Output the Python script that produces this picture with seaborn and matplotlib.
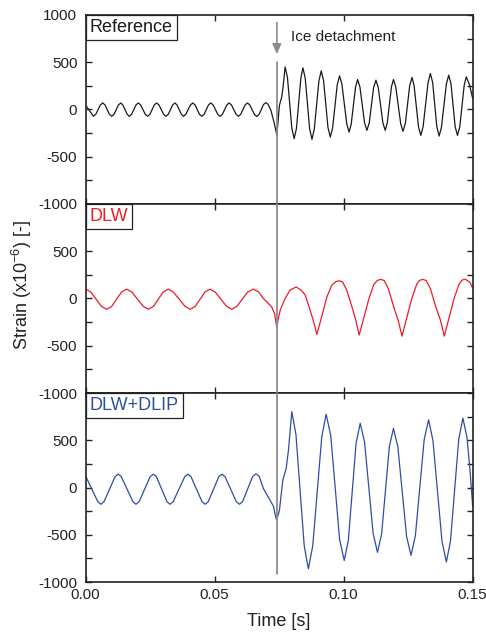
import numpy as np
import pandas as pd
import matplotlib
matplotlib.use("Agg")
import matplotlib.pyplot as plt
import seaborn as sns
from matplotlib.offsetbox import AnchoredText
from matplotlib.ticker import FixedLocator, MultipleLocator

# strain traces (time in s, strain in 1e-6)
ref_t = [0.0000, 0.0030, 0.0039, 0.0057, 0.0066, 0.0075, 0.0092, 0.0101, 0.0110, 0.0127,
         0.0136, 0.0144, 0.0161, 0.0169, 0.0178, 0.0195, 0.0204, 0.0213, 0.0231, 0.0240,
         0.0249, 0.0266, 0.0275, 0.0284, 0.0302, 0.0311, 0.0320, 0.0337, 0.0346, 0.0354,
         0.0371, 0.0379, 0.0388, 0.0406, 0.0415, 0.0424, 0.0441, 0.0450, 0.0459, 0.0476,
         0.0485, 0.0494, 0.0512, 0.0521, 0.0530, 0.0547, 0.0556, 0.0565, 0.0583, 0.0592,
         0.0601, 0.0618, 0.0627, 0.0636, 0.0654, 0.0663, 0.0672, 0.0689, 0.0698, 0.0707,
         0.0718, 0.0730, 0.0741, 0.0751, 0.0760, 0.0766, 0.0773, 0.0782, 0.0799, 0.0808,
         0.0817, 0.0834, 0.0842, 0.0851, 0.0868, 0.0877, 0.0886, 0.0904, 0.0913, 0.0922,
         0.0939, 0.0948, 0.0957, 0.0975, 0.0984, 0.0993, 0.1012, 0.1021, 0.1029, 0.1046,
         0.1054, 0.1063, 0.1081, 0.1090, 0.1099, 0.1116, 0.1125, 0.1134, 0.1152, 0.1161,
         0.1169, 0.1185, 0.1193, 0.1202, 0.1221, 0.1230, 0.1239, 0.1256, 0.1265, 0.1273,
         0.1290, 0.1299, 0.1308, 0.1327, 0.1336, 0.1345, 0.1361, 0.1370, 0.1379, 0.1398,
         0.1407, 0.1416, 0.1432, 0.1441, 0.1450, 0.1467, 0.1475, 0.1488, 0.1500]
ref_s = [45, -72, -51, 48, 69, 48, -51, -72, -51, 48,
         69, 48, -51, -72, -51, 48, 69, 48, -51, -72,
         -51, 48, 69, 48, -51, -72, -51, 48, 69, 48,
         -51, -72, -51, 48, 69, 48, -51, -72, -51, 48,
         69, 48, -51, -72, -51, 48, 69, 48, -51, -72,
         -51, 48, 69, 48, -53, -75, -52, 51, 73, 55,
         -10, -133, -274, 45, 133, 260, 451, 340, -198, -309,
         -199, 331, 441, 330, -205, -316, -210, 303, 409, 306,
         -189, -292, -197, 261, 356, 269, -153, -240, -158, 236,
         317, 238, -142, -221, -143, 232, 310, 232, -143, -221,
         -142, 238, 317, 237, -151, -231, -147, 255, 339, 250,
         -184, -274, -178, 285, 381, 284, -184, -281, -187, 269,
         363, 270, -181, -274, -183, 254, 345, 260, 116]

dlw_t = [0.0000, 0.0020, 0.0061, 0.0081, 0.0101, 0.0139, 0.0159, 0.0179, 0.0223, 0.0243,
         0.0263, 0.0300, 0.0320, 0.0340, 0.0385, 0.0405, 0.0425, 0.0462, 0.0482, 0.0502,
         0.0546, 0.0566, 0.0586, 0.0628, 0.0650, 0.0670, 0.0689, 0.0721, 0.0732, 0.0741,
         0.0746, 0.0754, 0.0773, 0.0792, 0.0816, 0.0838, 0.0851, 0.0870, 0.0884, 0.0896,
         0.0912, 0.0935, 0.0954, 0.0970, 0.0983, 0.0996, 0.1012, 0.1032, 0.1047, 0.1060,
         0.1076, 0.1098, 0.1117, 0.1131, 0.1144, 0.1157, 0.1173, 0.1193, 0.1211, 0.1226,
         0.1242, 0.1264, 0.1283, 0.1294, 0.1307, 0.1320, 0.1336, 0.1356, 0.1375, 0.1390,
         0.1406, 0.1428, 0.1447, 0.1459, 0.1471, 0.1490, 0.1500]
dlw_s = [100, 68, -83, -114, -83, 68, 99, 68, -83, -114,
         -83, 68, 99, 68, -83, -114, -83, 68, 99, 68,
         -83, -114, -83, 68, 99, 70, 0, -89, -159, -308,
         -220, -124, 0, 88, 123, 80, 35, -124, -250, -380,
         -220, 17, 141, 180, 187, 175, 88, -89, -230, -387,
         -225, 0, 150, 192, 202, 190, 105, -80, -230, -398,
         -230, 0, 150, 192, 202, 190, 105, -80, -230, -398,
         -230, 0, 150, 195, 205, 170, 106]

dlip_t = [0.0000, 0.0047, 0.0059, 0.0071, 0.0114, 0.0126, 0.0138, 0.0183, 0.0195, 0.0207,
          0.0250, 0.0262, 0.0274, 0.0315, 0.0327, 0.0339, 0.0384, 0.0396, 0.0408, 0.0451,
          0.0463, 0.0475, 0.0516, 0.0528, 0.0540, 0.0584, 0.0596, 0.0608, 0.0647, 0.0660,
          0.0672, 0.0689, 0.0728, 0.0738, 0.0741, 0.0751, 0.0764, 0.0777, 0.0786, 0.0799,
          0.0815, 0.0847, 0.0863, 0.0880, 0.0915, 0.0932, 0.0950, 0.0984, 0.1002, 0.1018,
          0.1048, 0.1064, 0.1081, 0.1114, 0.1131, 0.1147, 0.1177, 0.1193, 0.1210, 0.1244,
          0.1261, 0.1278, 0.1312, 0.1329, 0.1346, 0.1381, 0.1398, 0.1414, 0.1446, 0.1462,
          0.1478, 0.1490, 0.1500]
dlip_s = [120, -150, -177, -150, 115, 141, 115, -150, -177, -150,
          115, 141, 115, -150, -177, -150, 115, 141, 115, -150,
          -177, -150, 115, 141, 115, -150, -177, -150, 115, 145,
          120, -11, -199, -330, -340, -241, 78, 200, 396, 803,
          560, -616, -860, -620, 535, 775, 548, -545, -772, -559,
          467, 680, 480, -485, -685, -493, 434, 626, 429, -521,
          -718, -508, 507, 717, 497, -568, -788, -565, 511, 734,
          530, 170, -200]

detach_t = 0.0741
panel_names = ["Reference", "DLW", "DLW+DLIP"]
panel_colors = ["#1a1a1a", "#ed1c24", "#2e4ea1"]
x_ticks = [0.00, 0.05, 0.10, 0.15]
x_labels = ["0.00", "0.05", "0.10", "0.15"]
y_ticks = [-1000, -500, 0, 500, 1000]
y_labels_top = ["-1000", "-500", "0", "500", "1000"]
y_labels_low = ["-1000", "-500", "0", "500", ""]

sns.set_theme(style="ticks")
plt.rcParams["font.family"] = ["Liberation Sans", "DejaVu Sans"]
plt.rcParams["mathtext.fontset"] = "custom"
plt.rcParams["mathtext.rm"] = "Liberation Sans"
plt.rcParams["mathtext.it"] = "Liberation Sans:italic"
text_col = "#222222"
grey = "#8c8c8c"

traces = [(ref_t, ref_s), (dlw_t, dlw_s), (dlip_t, dlip_s)]

fig, axes = plt.subplots(3, 1, sharex=True, figsize=(4.86, 6.37), dpi=100)
fig.subplots_adjust(left=0.1763, right=0.9726, top=0.9765, bottom=0.0863, hspace=0)

for i, ax in enumerate(axes):
    df = pd.DataFrame({"t": traces[i][0], "s": traces[i][1]})
    sns.lineplot(data=df, x="t", y="s", color=panel_colors[i], lw=0.9,
                 estimator=None, sort=False, ax=ax)
    ax.set_xlim(0, 0.15)
    ax.set_ylim(-1000, 1000)
    ax.set_xlabel("")
    ax.set_ylabel("")
    ax.yaxis.set_major_locator(FixedLocator(y_ticks))
    ax.yaxis.set_minor_locator(MultipleLocator(250))
    ax.set_yticklabels(y_labels_top if i == 0 else y_labels_low)
    ax.xaxis.set_major_locator(FixedLocator(x_ticks))
    ax.tick_params(which="both", direction="in", left=True, right=True,
                   top=True, bottom=True, length=4, width=1.0, color=text_col,
                   labelsize=11, labelcolor=text_col)
    ax.tick_params(axis="y", pad=6)
    ax.tick_params(axis="x", pad=4)
    for sp in ax.spines.values():
        sp.set_linewidth(1.2)
        sp.set_color(text_col)

    at = AnchoredText(panel_names[i], loc="upper left", frameon=True, borderpad=0,
                      pad=0.22, prop=dict(size=13, color=panel_colors[i]))
    at.patch.set_edgecolor(text_col)
    at.patch.set_linewidth(0.9)
    at.patch.set_boxstyle("square,pad=0")
    at.set_zorder(5)
    ax.add_artist(at)

axes[2].set_xticklabels(x_labels)
axes[2].set_xlabel("Time [s]", fontsize=13, color=text_col, labelpad=8)

# detachment marker
axes[0].axvline(detach_t, ymin=0, ymax=0.75, color=grey, lw=1.3, zorder=4, clip_on=False)
axes[1].axvline(detach_t, ymin=0, ymax=1, color=grey, lw=1.3, zorder=4, clip_on=False)
axes[2].axvline(detach_t, ymin=0.0435, ymax=1, color=grey, lw=1.3, zorder=4, clip_on=False)
axes[0].annotate("", xy=(detach_t, 585), xytext=(detach_t, 920),
                 arrowprops=dict(arrowstyle="-|>,head_length=0.5,head_width=0.22",
                                 color=grey, lw=1.2, shrinkA=0, shrinkB=0))
axes[0].text(0.0795, 770, "Ice detachment", fontsize=11, color=text_col,
             ha="left", va="center")

fig.text(22 / 486, 1 - 285 / 637, "Strain (x10$^{-6}$) [-]", rotation=90,
         ha="center", va="center", fontsize=13, color=text_col)

fig.savefig("out.png", dpi=100)
